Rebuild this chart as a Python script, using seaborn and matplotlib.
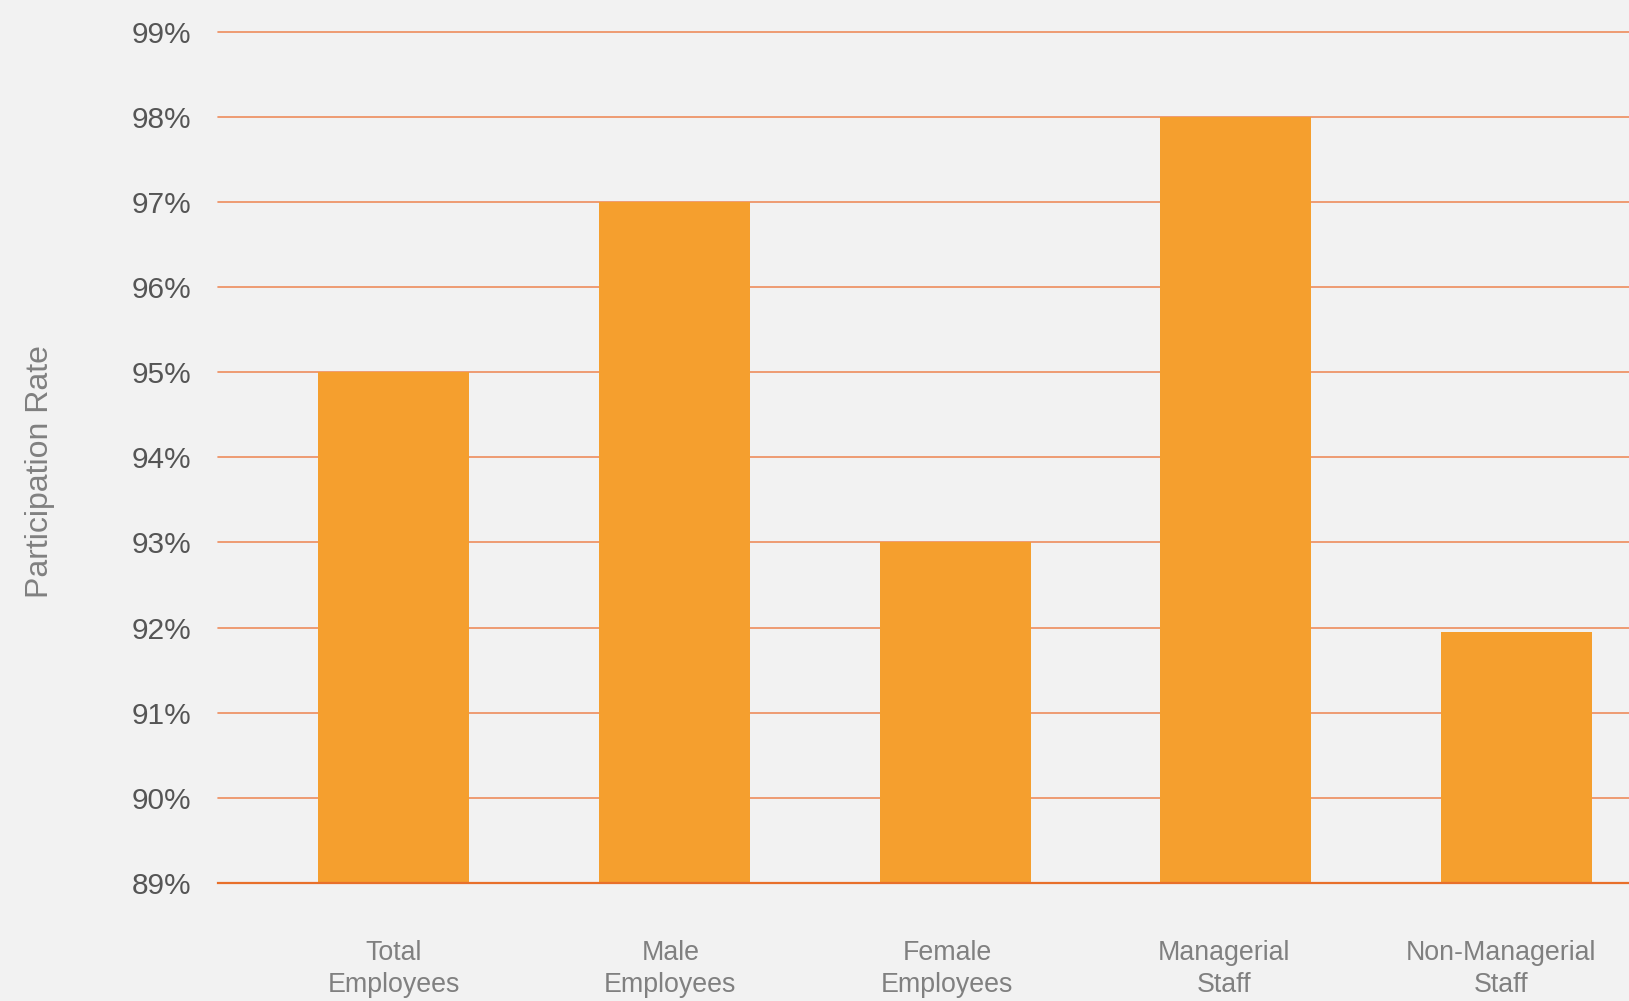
import matplotlib
matplotlib.use("Agg")
import matplotlib.pyplot as plt
import seaborn as sns
import pandas as pd
import numpy as np
from matplotlib.ticker import FuncFormatter, MultipleLocator

categories = ["Total\nEmployees", "Male\nEmployees", "Female\nEmployees", "Managerial\nStaff", "Non-Managerial\nStaff"]
rates = [95.0, 97.0, 93.0, 98.0, 91.95]

df = pd.DataFrame({"category": categories, "rate": rates})

sns.set_theme(style="white")
plt.rcParams["font.family"] = ["Liberation Sans", "DejaVu Sans"]

fig = plt.figure(figsize=(16.29, 10.01), dpi=100, facecolor="#F2F2F2")
ax = fig.add_axes([218/1629, 1 - 883/1001, 1 - 218/1629, (883 - 31.7)/1001])
ax.set_facecolor("#F2F2F2")

sns.barplot(data=df, x="category", y="rate", color="#F59F2E", saturation=1,
            width=0.538, ax=ax, zorder=3, linewidth=0)

ax.set_ylim(89, 99)
ax.set_xlim(-0.625, 4.40)
ax.yaxis.set_major_locator(MultipleLocator(1))
ax.yaxis.set_major_formatter(FuncFormatter(lambda v, p: f"{v:.0f}%"))
ax.grid(axis="y", color="#EE8C5C", linewidth=1.2, zorder=1)
for gl in ax.get_ygridlines():
    gl.set_clip_on(False)
ax.set_axisbelow(True)
for s in ["top", "right", "left"]:
    ax.spines[s].set_visible(False)
ax.spines["bottom"].set_color("#E8702A")
ax.spines["bottom"].set_linewidth(1.6)
ax.spines["bottom"].set_zorder(4)

# category labels sit on a slightly narrower spacing than the bars
ax.set_xticks(np.arange(len(categories)) * 0.986)
ax.set_xticklabels(categories)

ax.tick_params(axis="y", length=0, pad=19, labelsize=21.5, labelcolor="#555555")
ax.tick_params(axis="x", length=0, pad=41, labelsize=19.3, labelcolor="#808080")
for t in ax.get_xticklabels():
    t.set_linespacing(1.3)

ax.set_xlabel("")
ax.set_ylabel("Participation Rate", fontsize=23, color="#808080", va="center")
ax.yaxis.set_label_coords(-(218 - 40)/(1629 - 218), (883 - 472)/(883 - 31.7))

fig.savefig("out.png", dpi=100, facecolor="#F2F2F2")
